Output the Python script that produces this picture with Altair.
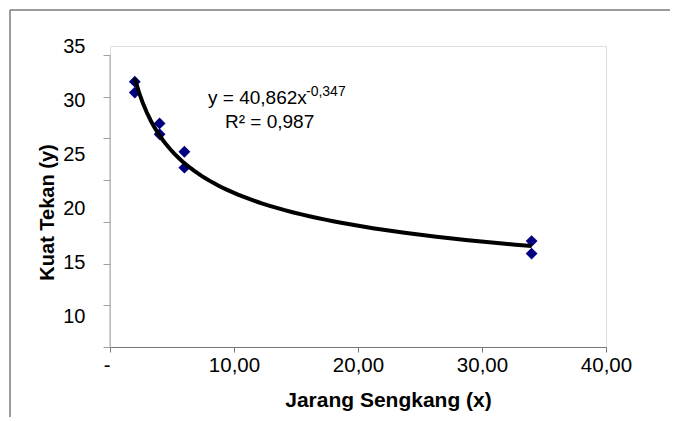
import altair as alt
import pandas as pd

# ---- data ----
x_vals = [2, 2, 4, 4, 6, 6, 34, 34]
y_vals = [31.8, 30.5, 26.8, 25.5, 23.4, 21.5, 12.7, 11.2]
x_ticks = [0, 10, 20, 30, 40]
y_ticks = [0, 5, 10, 15, 20, 25, 30, 35]
y_tick_labels = [10, 15, 20, 25, 30, 35]
equation = ["y = 40,862x"]
exponent = ["-0,347"]
r_squared = ["R² = 0,987"]

FONT = "Liberation Sans"
W, H = 496, 301
x_dom = [0, 40]
y_dom = [0, 36.08]
label_dom = [7.13, 35]

pts = pd.DataFrame({"x": x_vals, "y": y_vals})
one = pd.DataFrame({"a": [0]})

x_enc = alt.X(
    "x:Q",
    scale=alt.Scale(domain=x_dom, nice=False, zero=False),
    axis=alt.Axis(
        values=x_ticks,
        labelExpr="datum.value == 0 ? '-' : replace(format(datum.value, '.2f'), '.', ',')",
        labelFlush=False,
        labelAlign={"condition": {"test": "datum.value == 0", "value": "right"}, "value": "center"},
        tickSize=5, tickColor="#777777", domainColor="#777777",
        labelFontSize=20.5, labelFont=FONT, labelColor="#000000", labelPadding=3,
        grid=False,
        title="Jarang Sengkang (x)", titleFont=FONT, titleFontSize=21,
        titleFontWeight="bold", titleColor="#000000",
        titleX=278, titleY=59, titleBaseline="alphabetic", titleAlign="center",
    ),
)
y_enc = alt.Y(
    "y:Q",
    scale=alt.Scale(domain=y_dom, nice=False, zero=False),
    axis=alt.Axis(
        orient="left", values=y_ticks, labels=False, tickSize=7,
        tickColor="#a0a0a0", domain=False, grid=False,
        title="Kuat Tekan (y)", titleFont=FONT, titleFontSize=20,
        titleFontWeight="bold", titleColor="#000000",
        titleX=-63, titleY=166, titleBaseline="middle", titleAlign="center",
        titleAngle=270,
    ),
)

border_left = alt.Chart(one).mark_rule(color="#7a7a7a", strokeWidth=1.5).encode(
    x=alt.value(-100), y=alt.value(-36), y2=alt.value(380)
)
border_top = alt.Chart(one).mark_rule(color="#7a7a7a", strokeWidth=1.5).encode(
    x=alt.value(-100), x2=alt.value(580), y=alt.value(-36)
)
y_line = alt.Chart(one).mark_rule(color="#a0a0a0", strokeWidth=1).encode(
    x=alt.datum(0), y=alt.datum(0), y2=alt.datum(35)
)
points = alt.Chart(pts).mark_point(
    shape="diamond", filled=True, color="#000080", size=140, opacity=1
).encode(x=x_enc, y=y_enc)
trend = alt.Chart(pts).transform_regression(
    "x", "y", method="pow"
).mark_line(color="#000000", strokeWidth=4).encode(x="x:Q", y="y:Q")

eq_text = alt.Chart(pd.DataFrame({"t": equation})).mark_text(
    align="left", baseline="alphabetic", font=FONT, fontSize=19, color="#000000"
).encode(x=alt.value(98), y=alt.value(58), text="t:N")
exp_text = alt.Chart(pd.DataFrame({"t": exponent})).mark_text(
    align="left", baseline="alphabetic", font=FONT, fontSize=14, color="#000000"
).encode(x=alt.value(196), y=alt.value(50), text="t:N")
r2_text = alt.Chart(pd.DataFrame({"t": r_squared})).mark_text(
    align="left", baseline="alphabetic", font=FONT, fontSize=19, color="#000000"
).encode(x=alt.value(115), y=alt.value(82), text="t:N")

main = alt.layer(border_left, border_top, y_line, points, trend, eq_text, exp_text, r2_text)

label_layer = alt.Chart(pd.DataFrame({"v": y_tick_labels})).mark_point(opacity=0).encode(
    x=alt.datum(0),
    y=alt.Y(
        "v:Q",
        title="",
        scale=alt.Scale(domain=label_dom, nice=False, zero=False),
        axis=alt.Axis(
            orient="left", values=y_tick_labels, ticks=False, domain=False, grid=False,
            labelPadding=25, labelFontSize=20, labelFont=FONT, labelColor="#000000",
            labelBaseline="middle",
        ),
    ),
)

chart = alt.layer(main, label_layer).resolve_scale(y="independent").properties(
    width=W, height=H,
    padding={"left": 102, "top": 38, "right": 64, "bottom": 70},
    autosize=alt.AutoSizeParams(type="none"),
).configure_view(strokeWidth=0).configure(background="#ffffff")

chart.save("out.html", embed_options={"renderer": "svg", "actions": False})
